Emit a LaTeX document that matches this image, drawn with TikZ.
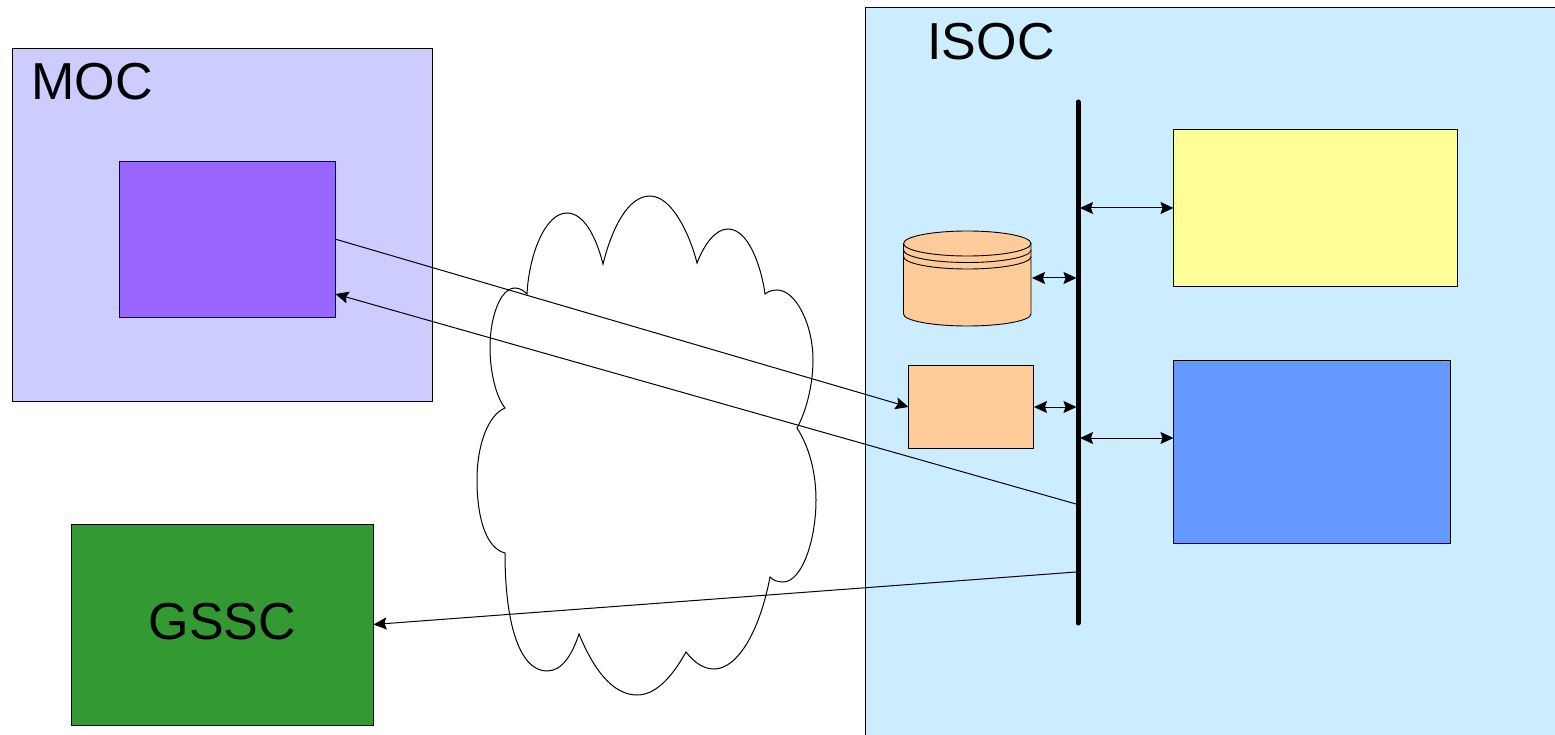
\documentclass[tikz,border=0pt]{standalone}
\usepackage{fontspec}
\setmainfont{Liberation Sans}
\usetikzlibrary{arrows.meta}
\tikzset{
  panel/.style={draw=black,line width=0.8pt,anchor=north west,inner sep=0pt,outer sep=0pt},
  title/.style={font=\fontsize{52}{60}\selectfont,text=black,inner sep=0pt},
  tip/.tip={Stealth[length=13pt,width=12pt,inset=2pt]},
  link/.style={draw=black,line width=1pt,-tip},
  dlink/.style={draw=black,line width=1pt,tip-tip},
  cloudline/.style={draw=black,line width=1pt,fill=white},
  dbline/.style={draw=black,line width=0.9pt},
}
\definecolor{mocbg}{HTML}{CCCCFF}
\definecolor{purplebox}{HTML}{9966FF}
\definecolor{gsscbg}{HTML}{339933}
\definecolor{isocbg}{HTML}{CCECFF}
\definecolor{yellowbox}{HTML}{FFFF99}
\definecolor{bluebox}{HTML}{6699FF}
\definecolor{orangebox}{HTML}{FFCC99}
\begin{document}
\begin{tikzpicture}[x=1pt,y=-1pt]
\useasboundingbox (0,0) rectangle (1555,735);
% panels
\node[panel,fill=mocbg,minimum width=420pt,minimum height=353pt] (moc) at (12.5,48.5) {};
\node[panel,fill=purplebox,minimum width=216pt,minimum height=156.5pt] (proc) at (119.7,161) {};
\node[panel,fill=gsscbg,minimum width=302pt,minimum height=201pt] (gssc) at (71.5,524) {};
\begin{scope}
\clip (0,0) rectangle (1555,735);
\node[panel,fill=isocbg,minimum width=700pt,minimum height=740pt] (isoc) at (865.5,7.8) {};
\end{scope}
\node[panel,fill=yellowbox,minimum width=284pt,minimum height=156.5pt] (yellow) at (1173.7,129.5) {};
\node[panel,fill=bluebox,minimum width=277pt,minimum height=183pt] (blue) at (1173.7,360) {};
\node[panel,fill=orangebox,minimum width=125pt,minimum height=83pt] (orange) at (908.7,365) {};
% titles
\node[title] (moclabel) at (92,82) {MOC};
\node[title] (isoclabel) at (991,42) {ISOC};
\node[title] (gssclabel) at (222.5,622) {GSSC};
% cloud
\path[cloudline] (527,294)
  .. controls (529,255) and (545,213) .. (567,213)
  .. controls (585,213) and (597,240) .. (603,264)
  .. controls (612,228) and (628,196) .. (650,196)
  .. controls (672,196) and (690,235) .. (697,263)
  .. controls (704,245) and (715,229) .. (728,229)
  .. controls (748,229) and (761,265) .. (765,294)
  .. controls (769,291) and (773,290) .. (777,290)
  .. controls (796,290) and (813,325) .. (813,360)
  .. controls (813,385) and (806,412) .. (797,428)
  .. controls (808,445) and (816,470) .. (816,500)
  .. controls (816,540) and (802,582) .. (783,582)
  .. controls (777,582) and (773,580) .. (770,577)
  .. controls (760,630) and (738,669) .. (714,669)
  .. controls (703,669) and (694,662) .. (686,652)
  .. controls (673,675) and (657,695) .. (637,695)
  .. controls (612,695) and (593,668) .. (579,634)
  .. controls (572,655) and (562,671) .. (547,671)
  .. controls (520,671) and (505,625) .. (505,553)
  .. controls (485,548) and (477,515) .. (477,480)
  .. controls (477,445) and (488,415) .. (505,408)
  .. controls (497,398) and (490,375) .. (490,347)
  .. controls (490,318) and (500,288) .. (515,288)
  .. controls (520,288) and (524,291) .. (527,294) -- cycle;
% bus
\draw[line width=5pt,line cap=round] (1078,102) coordinate (bustop) -- (1078,623) coordinate (busbottom);
% database
\path[fill=orangebox] (903.5,243.5) -- (903.5,314) arc[start angle=180,end angle=360,x radius=63.75pt,y radius=12pt] -- (1031,243.5) arc[start angle=0,end angle=180,x radius=63.75pt,y radius=12.5pt] -- cycle;
\draw[dbline] (903.5,243.5) -- (903.5,314) arc[start angle=180,delta angle=-180,x radius=63.75pt,y radius=-12pt] -- (1031,243.5);
\draw[dbline] (967.25,243.5) ellipse[x radius=63.75pt,y radius=12.5pt];
\draw[dbline] (903.5,250) arc[start angle=180,delta angle=-180,x radius=63.75pt,y radius=-12.5pt];
\draw[dbline] (903.5,256.5) arc[start angle=180,delta angle=-180,x radius=63.75pt,y radius=-12.5pt];
\coordinate (dbport) at (1032,278);
% connector ends
\coordinate (busdb) at (1076.5,278);
\coordinate (busorange) at (1076.5,407);
\coordinate (orangeport) at (1034,407);
\coordinate (busyellowa) at (1080,208);
\coordinate (yellowport) at (1173.5,208);
\coordinate (busbluea) at (1080,438);
\coordinate (blueport) at (1173.5,438);
\coordinate (busout) at (1076,504);
\coordinate (procin) at (335.5,294);
\coordinate (busgssc) at (1076,572);
\coordinate (gsscin) at (373.5,624.5);
\coordinate (orangein) at (908.5,407);
% connectors
\draw[link] (proc.east) -- (orangein);
\draw[link] (busout) -- (procin);
\draw[link] (busgssc) -- (gsscin);
\draw[dlink] (busyellowa) -- (yellowport);
\draw[dlink] (dbport) -- (busdb);
\draw[dlink] (orangeport) -- (busorange);
\draw[dlink] (busbluea) -- (blueport);
\end{tikzpicture}
\end{document}
